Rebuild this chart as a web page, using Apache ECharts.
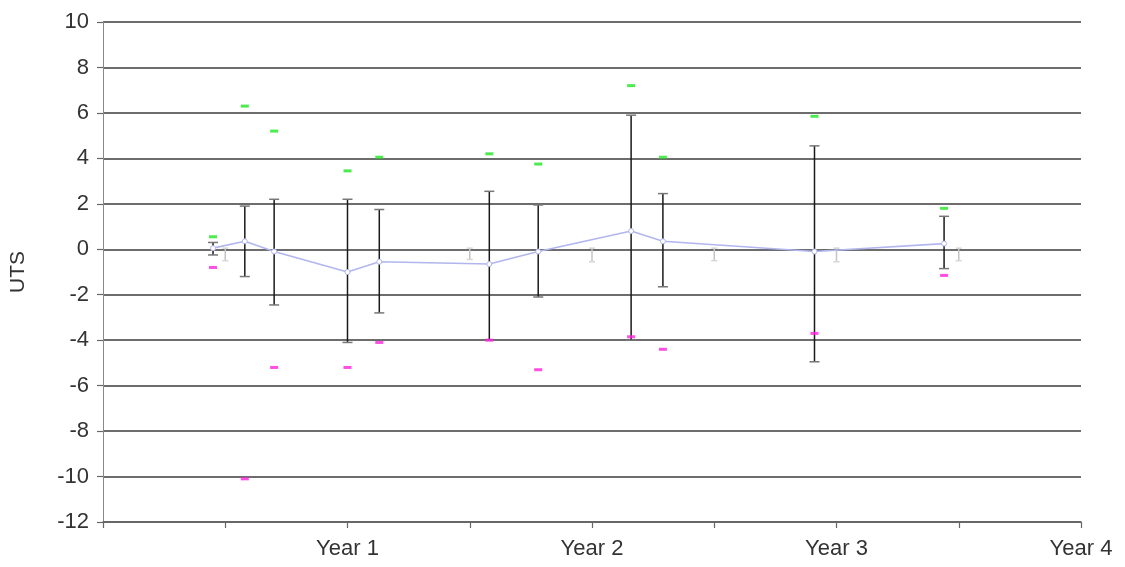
<!DOCTYPE html>
<html>
<head>
<meta charset="utf-8">
<script src="https://cdn.jsdelivr.net/npm/echarts@6/dist/echarts.min.js"></script>
<style>
  html, body { margin: 0; padding: 0; background: #fff; }
  #chart { width: 1125px; height: 567px; }
</style>
</head>
<body>
<div id="chart"></div>
<script>
// Measurement times (years) for each sample
const timePoints = [0.45, 0.58, 0.70, 1.00, 1.13, 1.58, 1.78, 2.16, 2.29, 2.91, 3.44];
// Mean UTS and its error bar bounds
const meanValues = [0.05, 0.35, -0.1, -1.0, -0.55, -0.65, -0.1, 0.8, 0.35, -0.1, 0.25];
const upperValues = [0.3, 1.9, 2.2, 2.2, 1.75, 2.55, 1.95, 5.9, 2.45, 4.55, 1.45];
const lowerValues = [-0.25, -1.2, -2.45, -4.1, -2.8, -4.0, -2.1, -4.0, -1.65, -4.95, -0.85];
// Extremes observed at each time
const maxValues = [0.55, 6.3, 5.2, 3.45, 4.05, 4.2, 3.75, 7.2, 4.05, 5.85, 1.8];
const minValues = [-0.8, -10.1, -5.2, -5.2, -4.1, -4.0, -5.3, -3.85, -4.4, -3.7, -1.15];
// Reference marks at half-year intervals
const refTimes = [0.5, 1.5, 2.0, 2.5, 3.0, 3.5];
const refHigh = [0.05, 0.05, 0.05, 0.05, 0.05, 0.05];
const refLow = [-0.5, -0.45, -0.55, -0.5, -0.55, -0.5];
// Axis labels
const yearLabels = ['', 'Year 1', 'Year 2', 'Year 3', 'Year 4'];

const chart = echarts.init(document.getElementById('chart'));

function barRenderer(lineColor, capColor, capHalf, width) {
  return function (params, api) {
    const x = api.value(0);
    const p1 = api.coord([x, api.value(1)]);
    const p2 = api.coord([x, api.value(2)]);
    return {
      type: 'group',
      children: [
        { type: 'line', shape: { x1: p1[0], y1: p1[1], x2: p2[0], y2: p2[1] },
          style: { stroke: lineColor, lineWidth: width } },
        { type: 'line', shape: { x1: p1[0] - capHalf, y1: p1[1], x2: p1[0] + capHalf, y2: p1[1] },
          style: { stroke: capColor, lineWidth: 1.5 } },
        { type: 'line', shape: { x1: p2[0] - capHalf, y1: p2[1], x2: p2[0] + capHalf, y2: p2[1] },
          style: { stroke: capColor, lineWidth: 1.5 } }
      ]
    };
  };
}

const font = 'Liberation Sans, Arial, sans-serif';

chart.setOption({
  animation: false,
  backgroundColor: '#ffffff',
  grid: { left: 103, right: 44, top: 22, bottom: 45 },
  xAxis: {
    type: 'value', min: 0, max: 4, interval: 0.5,
    axisLine: { onZero: false, lineStyle: { color: '#666', width: 1.5 } },
    axisTick: { show: true, length: 6, inside: false, lineStyle: { color: '#666', width: 1.2 } },
    axisLabel: {
      margin: 16, color: '#333', fontSize: 22, fontFamily: font,
      formatter: v => (Number.isInteger(v) ? yearLabels[v] : '')
    },
    splitLine: { show: false }
  },
  yAxis: {
    type: 'value', min: -12, max: 10, interval: 2,
    name: 'UTS', nameLocation: 'middle', nameGap: 74, nameRotate: 90,
    nameTextStyle: { color: '#333', fontSize: 21, fontFamily: font },
    axisLine: { show: true, lineStyle: { color: '#888', width: 1 } },
    axisTick: { show: true, length: 6, lineStyle: { color: '#666', width: 1.2 } },
    axisLabel: { margin: 14, color: '#333', fontSize: 22, fontFamily: font },
    splitLine: { show: true, lineStyle: { color: '#3c3c3c', width: 1.6 } }
  },
  series: [
    {
      name: 'reference',
      type: 'custom',
      renderItem: barRenderer('#c4c4c4', '#d6d6d6', 3, 1.5),
      data: refTimes.map((t, i) => [t, refLow[i], refHigh[i]]),
      z: 2
    },
    {
      name: 'error',
      type: 'custom',
      renderItem: barRenderer('#1a1a1a', '#777', 5, 1.5),
      data: timePoints.map((t, i) => [t, lowerValues[i], upperValues[i]]),
      z: 3
    },
    {
      name: 'mean',
      type: 'line',
      data: timePoints.map((t, i) => [t, meanValues[i]]),
      lineStyle: { color: '#b2b6ee', width: 1.6 },
      itemStyle: { color: '#ffffff', borderColor: '#b2b6ee', borderWidth: 1 },
      symbol: 'circle', symbolSize: 5,
      z: 4
    },
    {
      name: 'max',
      type: 'scatter',
      data: timePoints.map((t, i) => [t, maxValues[i]]),
      symbol: 'rect', symbolSize: [8, 3],
      itemStyle: { color: '#22e622' },
      z: 5
    },
    {
      name: 'min',
      type: 'scatter',
      data: timePoints.map((t, i) => [t, minValues[i]]),
      symbol: 'rect', symbolSize: [8, 3],
      itemStyle: { color: '#ff22dd' },
      z: 5
    }
  ]
});
</script>
</body>
</html>
